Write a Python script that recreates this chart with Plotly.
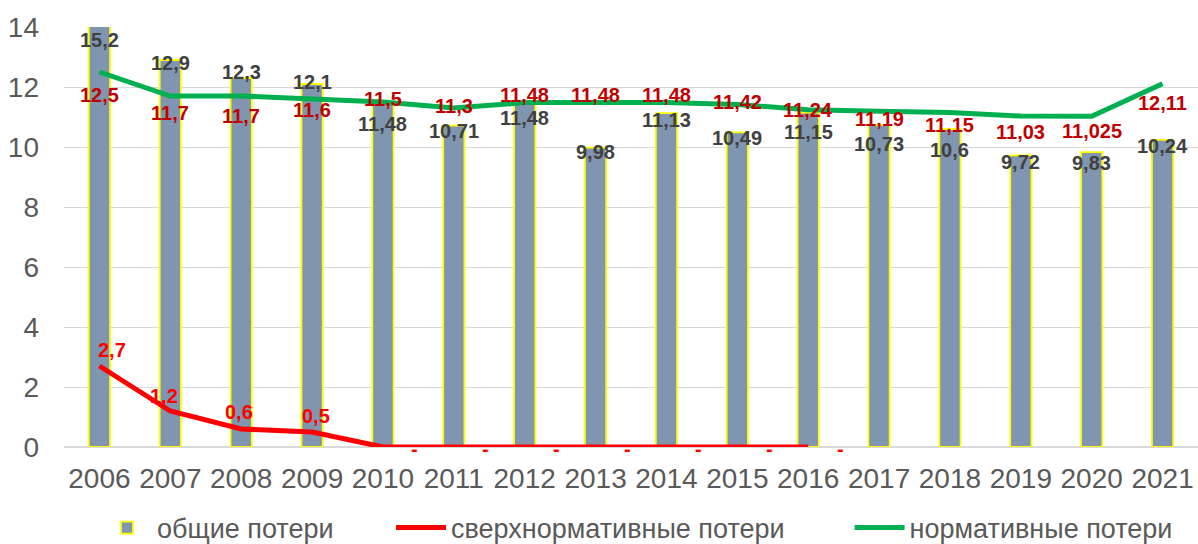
import plotly.graph_objects as go

years = [str(y) for y in range(2006, 2022)]
total_losses = [15.2, 12.9, 12.3, 12.1, 11.48, 10.71, 11.48, 9.98, 11.13, 10.49, 11.15, 10.73, 10.6, 9.72, 9.83, 10.24]
excess_losses = [2.7, 1.2, 0.6, 0.5, 0, 0, 0, 0, 0, 0, 0, None, None, None, None, None]
normative_losses = [12.5, 11.7, 11.7, 11.6, 11.5, 11.3, 11.48, 11.48, 11.48, 11.42, 11.24, 11.19, 11.15, 11.03, 11.025, 12.11]

names = ["общие потери", "сверхнормативные потери", "нормативные потери"]

# label offsets (px) - styling only
bar_lbl_dy = [-13, -3, 6, 2, -21, -5, -15, -4, -7, -6, -19, -19, -21, -7, -11, -6]
norm_lbl_dy = [-23, -17, -20, -11, 3, 2, 8, 8, 8, 2, 0, -8, -12, -16, -15, -19]
exc_lbl_dx = [13, -6, -2, 4, 32, 32, 32, 32, 32, 32, 32]
exc_lbl_dy = [16, 15, 17, 16, -2, -2, -2, -2, -2, -2, -2]

YMAX = 14
NBSP = "\u00a0"
LBL_FONT = "Liberation Sans"


def fmt(v):
    return ("%g" % v).replace(".", ",")


fig = go.Figure()
fig.add_trace(go.Bar(
    x=years, y=total_losses, name=names[0] + NBSP * 7,
    marker=dict(color="#7f95b0", line=dict(color="#ffff00", width=1.8)),
    width=0.3,
))
fig.add_trace(go.Scatter(
    x=years, y=excess_losses, name=names[1] + NBSP * 8, mode="lines",
    line=dict(color="#ff0000", width=5), connectgaps=False,
))
fig.add_trace(go.Scatter(
    x=years, y=normative_losses, name=names[2], mode="lines",
    line=dict(color="#00b050", width=5),
))

ann = []
for i, v in enumerate(total_losses):
    ann.append(dict(x=i, y=min(v, YMAX), text=fmt(v), showarrow=False,
                    yshift=bar_lbl_dy[i],
                    font=dict(family=LBL_FONT, size=20, color="#404040", weight="bold")))
for i, v in enumerate(normative_losses):
    ann.append(dict(x=i, y=v, text=fmt(v), showarrow=False,
                    yshift=norm_lbl_dy[i],
                    font=dict(family=LBL_FONT, size=20, color="#c00000", weight="bold")))
for i, v in enumerate(excess_losses):
    if v is None:
        continue
    ann.append(dict(x=i, y=v, text=fmt(v) if v != 0 else "-", showarrow=False,
                    xshift=exc_lbl_dx[i], yshift=exc_lbl_dy[i],
                    font=dict(family=LBL_FONT, size=20, color="#ff0000", weight="bold")))

fig.update_layout(
    width=1198, height=544,
    margin=dict(l=64, r=0, t=27, b=97, autoexpand=False),
    paper_bgcolor="white", plot_bgcolor="white",
    font=dict(family="Liberation Sans", color="#595959"),
    bargap=0.7,
    showlegend=True,
    legend=dict(orientation="h", xref="container", x=97 / 1198, xanchor="left",
                yref="container", y=16 / 544, yanchor="middle",
                font=dict(size=27, color="#595959"), traceorder="normal", itemwidth=50),
    annotations=ann,
    xaxis=dict(type="category", range=[-0.5, len(years) - 0.5], autorange=False,
               tickfont=dict(size=28, color="#595959"),
               showline=True, linecolor="#d9d9d9", ticks="", ticklabelstandoff=6),
    yaxis=dict(range=[0, YMAX], dtick=2, tickfont=dict(size=28, color="#595959"),
               gridcolor="#d9d9d9", zeroline=True, zerolinecolor="#d9d9d9", ticks="",
               ticklabelstandoff=24),
)

fig.write_html("out.html", config={"displayModeBar": False},
               post_script="document.body.style.margin='0';")
